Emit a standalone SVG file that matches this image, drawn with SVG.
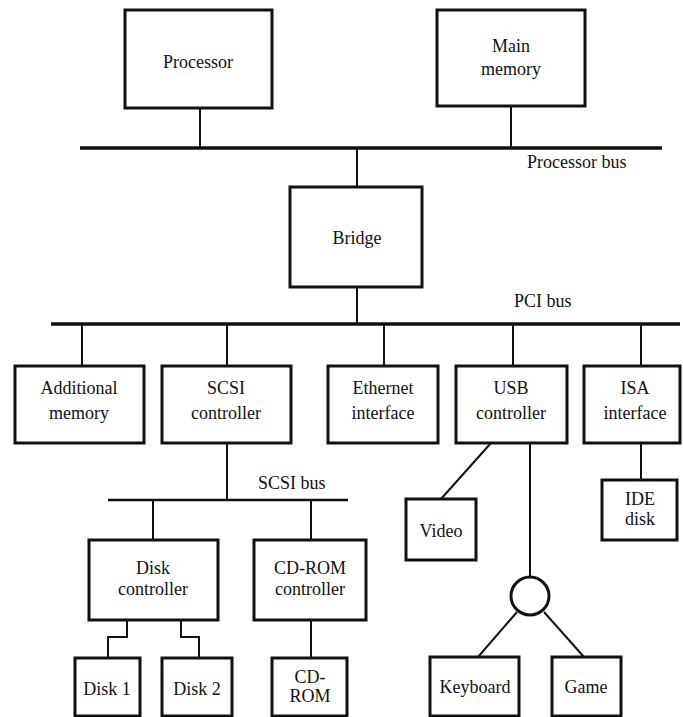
<svg xmlns="http://www.w3.org/2000/svg" width="683" height="717" viewBox="0 0 683 717" font-family="Liberation Serif, DejaVu Serif, serif">
<style>
.box{fill:#fff;stroke:#111;stroke-width:3}
.ln{fill:none;stroke:#111;stroke-width:2}
.bus{fill:none;stroke:#111;stroke-width:3.5}
text{font-family:'Liberation Serif','DejaVu Serif',serif;font-size:18px;fill:#111;text-anchor:middle}
.lbl{text-anchor:start}
</style>
<rect width="683" height="717" fill="#fff"/>
<g id="connectors">
<line class="bus" x1="80" y1="148" x2="662" y2="148"/>
<line class="ln" x1="200" y1="108" x2="200" y2="148"/>
<line class="ln" x1="511" y1="106" x2="511" y2="148"/>
<line class="ln" x1="357" y1="148" x2="357" y2="187"/>
<line class="ln" x1="357" y1="287" x2="357" y2="324"/>
<line class="bus" x1="51" y1="324" x2="680" y2="324"/>
<line class="ln" x1="82" y1="324" x2="82" y2="366"/>
<line class="ln" x1="227" y1="324" x2="227" y2="366"/>
<line class="ln" x1="384" y1="324" x2="384" y2="366"/>
<line class="ln" x1="513" y1="324" x2="513" y2="366"/>
<line class="ln" x1="641" y1="324" x2="641" y2="366"/>
<line class="ln" x1="227" y1="443" x2="227" y2="500"/>
<line class="bus" x1="108" y1="500" x2="348" y2="500" style="stroke-width:2.5"/>
<line class="ln" x1="153" y1="500" x2="153" y2="540"/>
<line class="ln" x1="311" y1="500" x2="311" y2="540"/>
<polyline class="ln" points="127,620 127,637 108,637 108,658"/>
<polyline class="ln" points="181,620 181,637 199,637 199,658"/>
<line class="ln" x1="311" y1="620" x2="311" y2="658"/>
<line class="ln" x1="491" y1="443" x2="441" y2="499"/>
<line class="ln" x1="530" y1="443" x2="530" y2="577"/>
<line class="ln" x1="517" y1="612" x2="478" y2="657"/>
<line class="ln" x1="544" y1="612" x2="584" y2="657"/>
<line class="ln" x1="641" y1="443" x2="641" y2="480"/>
</g>
<g id="processor"><rect class="box" x="125" y="10" width="147" height="98"/><text x="198" y="68">Processor</text></g>
<g id="main-memory"><rect class="box" x="437" y="10" width="148" height="96"/><text x="511" y="52">Main</text><text x="511" y="75">memory</text></g>
<text class="lbl" x="527" y="168">Processor bus</text>
<g id="bridge"><rect class="box" x="290" y="187" width="132" height="100"/><text x="357" y="244">Bridge</text></g>
<text class="lbl" x="514" y="307">PCI bus</text>
<g id="additional-memory"><rect class="box" x="15" y="366" width="129" height="77"/><text x="79" y="394">Additional</text><text x="79" y="419">memory</text></g>
<g id="scsi-controller"><rect class="box" x="162" y="366" width="129" height="77"/><text x="226" y="394">SCSI</text><text x="226" y="419">controller</text></g>
<g id="ethernet-interface"><rect class="box" x="328" y="366" width="110" height="77"/><text x="383" y="394">Ethernet</text><text x="383" y="419">interface</text></g>
<g id="usb-controller"><rect class="box" x="456" y="366" width="111" height="77"/><text x="511" y="394">USB</text><text x="511" y="419">controller</text></g>
<g id="isa-interface"><rect class="box" x="584" y="366" width="96" height="77"/><text x="635" y="394">ISA</text><text x="635" y="419">interface</text></g>
<text class="lbl" x="258" y="489">SCSI bus</text>
<g id="disk-controller"><rect class="box" x="89" y="540" width="129" height="80"/><text x="153" y="574">Disk</text><text x="153" y="595">controller</text></g>
<g id="cdrom-controller"><rect class="box" x="254" y="540" width="112" height="80"/><text x="310" y="574">CD-ROM</text><text x="310" y="595">controller</text></g>
<g id="disk1"><rect class="box" x="75" y="658" width="65" height="58"/><text x="107" y="695">Disk 1</text></g>
<g id="disk2"><rect class="box" x="162" y="658" width="70" height="58"/><text x="197" y="695">Disk 2</text></g>
<g id="cdrom"><rect class="box" x="272" y="658" width="75" height="58"/><text x="310" y="683">CD-</text><text x="310" y="702">ROM</text></g>
<g id="video"><rect class="box" x="406" y="499" width="70" height="61"/><text x="441" y="537">Video</text></g>
<g id="hub"><circle cx="530" cy="596" r="19" fill="#fff" stroke="#111" stroke-width="3"/></g>
<g id="keyboard"><rect class="box" x="430" y="657" width="89" height="59"/><text x="475" y="693">Keyboard</text></g>
<g id="game"><rect class="box" x="552" y="657" width="69" height="59"/><text x="586" y="693">Game</text></g>
<g id="ide-disk"><rect class="box" x="602" y="480" width="75" height="60"/><text x="640" y="505">IDE</text><text x="640" y="525">disk</text></g>
</svg>
